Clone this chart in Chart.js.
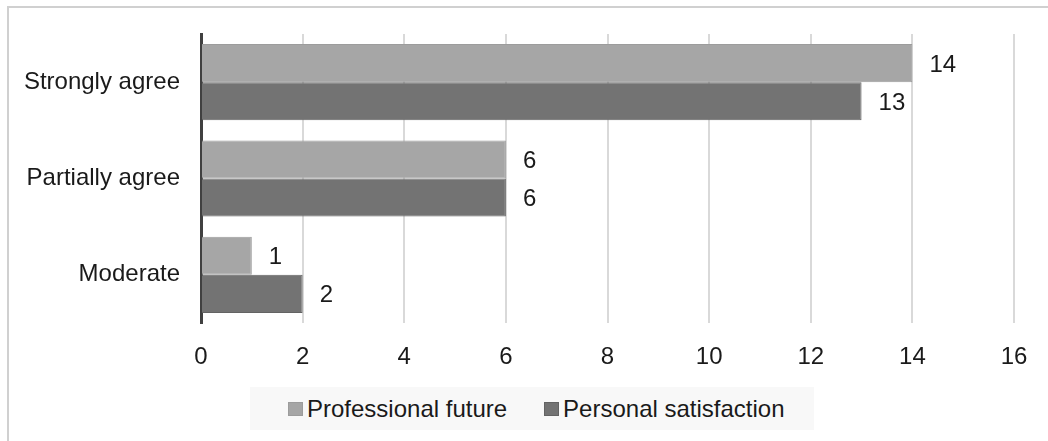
<!DOCTYPE html>
<html>
<head>
<meta charset="utf-8">
<script src="https://cdn.jsdelivr.net/npm/chart.js@4"></script>
<style>
  html, body { margin: 0; padding: 0; background: #fff; }
  #frame {
    position: absolute; left: 7px; top: 6px;
    width: 1041px; height: 435px;
    border-left: 2px solid #d0d0d0; border-top: 2px solid #d0d0d0;
    box-sizing: border-box;
  }
  #wrap { position: absolute; left: 0; top: 0; width: 1039px; height: 433px; }
  #legend {
    position: absolute; left: 250px; top: 387px; width: 564px; height: 43px;
    background: #f8f8f8; box-sizing: border-box; padding-left: 38px;
    font: 24px "Liberation Sans", Arial, sans-serif; color: #1a1a1a;
    display: flex; align-items: center; white-space: nowrap;
  }
  #legend .sw { display: inline-block; width: 15px; height: 14px; margin-right: 4px; box-sizing: border-box; }
  #legend .item { display: flex; align-items: center; margin-right: 37px; }
</style>
</head>
<body>
<div id="frame"><div id="wrap"><canvas id="myChart"></canvas></div></div>
<div id="legend"></div>
<script>
// categories and values
var categories = ['Strongly agree', 'Partially agree', 'Moderate']
var professionalFuture = [14, 6, 1]
var personalSatisfaction = [13, 6, 2]
var xTicks = [0, 2, 4, 6, 8, 10, 12, 14, 16]

const ctx = document.getElementById('myChart');
const FONT = '"Liberation Sans", Arial, sans-serif'

// value labels at the end of each bar
const valueLabels = {
  id: 'valueLabels',
  afterDatasetsDraw(chart) {
    const c = chart.ctx
    c.save()
    c.font = '24px ' + FONT
    c.fillStyle = '#1a1a1a'
    c.textAlign = 'left'
    c.textBaseline = 'middle'
    chart.data.datasets.forEach(function(ds, i) {
      chart.getDatasetMeta(i).data.forEach(function(bar, j) {
        c.fillText(ds.data[j], bar.x + 17, bar.y + 2)
      })
    })
    c.restore()
  }
}

let chart = new Chart(ctx, {
  type: 'bar',
  data: {
    labels: categories,
    datasets: [{
      label: 'Professional future',
      data: professionalFuture,
      backgroundColor: '#a6a6a6',
      borderColor: '#9c9c9c',
      borderWidth: 1,
      categoryPercentage: 0.79,
      barPercentage: 1
    }, {
      label: 'Personal satisfaction',
      data: personalSatisfaction,
      backgroundColor: '#737373',
      borderColor: '#636363',
      borderWidth: 1,
      categoryPercentage: 0.79,
      barPercentage: 1
    }]
  },
  options: {
    indexAxis: 'y',
    responsive: true,
    maintainAspectRatio: false,
    animation: false,
    layout: { padding: { left: 0, right: 34, top: 26, bottom: 58 } },
    plugins: {
      tooltip: { enabled: false },
      legend: { display: false }
    },
    scales: {
      x: {
        min: 0,
        max: 16,
        afterBuildTicks: function(scale) {
          scale.ticks = xTicks.map(function(v) { return { value: v } })
        },
        afterFit: function(scale) { scale.height = 60 },
        grid: { color: '#d9d9d9', lineWidth: 2, drawTicks: false },
        border: { display: false },
        ticks: {
          color: '#1a1a1a',
          padding: 20,
          font: { family: FONT, size: 24 }
        }
      },
      y: {
        afterFit: function(scale) {
          scale.width = 192
          scale.paddingTop = 0
          scale.paddingBottom = 0
        },
        grid: { display: false, drawTicks: false },
        border: { display: true, color: '#404040', width: 3 },
        ticks: {
          color: '#1a1a1a',
          padding: 21,
          font: { family: FONT, size: 24 }
        }
      }
    }
  },
  plugins: [valueLabels]
});

// legend built from the chart's datasets
var legendEl = document.getElementById('legend')
chart.data.datasets.forEach(function(ds) {
  var item = document.createElement('span')
  item.className = 'item'
  var sw = document.createElement('span')
  sw.className = 'sw'
  sw.style.background = ds.backgroundColor
  sw.style.border = '1px solid ' + ds.borderColor
  item.appendChild(sw)
  item.appendChild(document.createTextNode(ds.label))
  legendEl.appendChild(item)
})
</script>
</body>
</html>
